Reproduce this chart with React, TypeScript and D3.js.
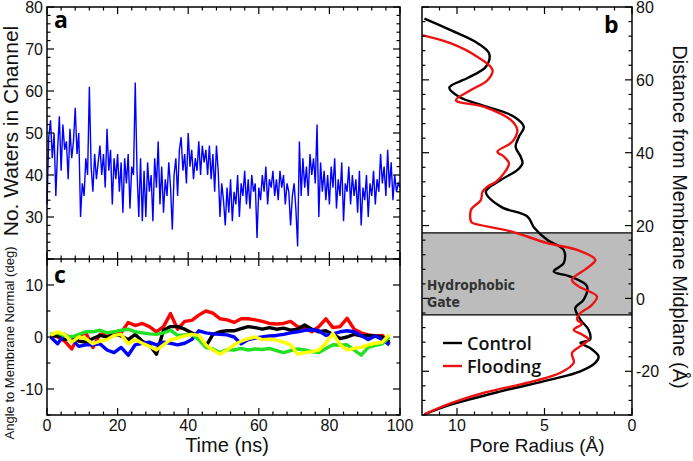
import React from "react";
import * as d3 from "d3";

// ---- Panel a: number of waters in channel, every 0.5 ns from 0 to 100 ns
const waters = [
  33, 49, 53, 44, 50, 35, 46, 54, 41, 52,
  46, 48, 39, 51, 44, 48, 56, 45, 50, 30,
  38, 35, 44, 40, 61, 42, 36, 45, 39, 43,
  47, 40, 45, 37, 51, 41, 46, 33, 44, 39,
  45, 36, 43, 31, 44, 38, 45, 32, 42, 40,
  62, 41, 30, 44, 29, 41, 30, 43, 36, 40,
  29, 44, 37, 48, 33, 42, 31, 39, 35, 43,
  37, 27, 40, 44, 35, 46, 49, 41, 45, 38,
  50, 42, 46, 39, 44, 41, 48, 40, 47, 43,
  46, 40, 47, 39, 45, 36, 47, 41, 30, 38,
  34, 28, 37, 31, 39, 29, 36, 33, 40, 30,
  38, 35, 41, 33, 39, 32, 40, 36, 38, 25,
  37, 34, 40, 36, 42, 33, 39, 37, 41, 35,
  39, 34, 41, 37, 40, 33, 38, 36, 28, 35,
  38, 32, 23, 48, 35, 44, 37, 42, 35, 45,
  40, 44, 38, 52, 30, 43, 36, 41, 34, 40,
  33, 42, 37, 44, 32, 39, 35, 43, 29, 38,
  36, 42, 33, 40, 35, 39, 31, 41, 28, 37,
  34, 40, 30, 38, 35, 41, 33, 39, 36, 45,
  38, 42, 35, 46, 37, 43, 34, 40, 36, 38,
  37,
];
const waterStep = 0.5;

// ---- Panel c: helix angles to membrane normal
const angleTimes = [
  1, 3, 5, 7, 9, 11, 13, 15, 17, 19, 21, 23, 25, 27, 29, 31, 33, 35, 37, 39,
  41, 43, 45, 47, 49, 51, 53, 55, 57, 59, 61, 63, 65, 67, 69, 71, 73, 75, 77, 79,
  81, 83, 85, 87, 89, 91, 93, 95, 97,
];
const angleRed = [
  0.5, 0, -0.8, -2.3, 0.3, 0.8, -2.0, 0.5, 0.8, 0.5, 0.8, 2.8, 2.2, 2.6, 2.0, 1.0, 2.0, 4.5, 1.5, 3.0,
  3.2, 4.2, 5.0, 4.6, 3.5, 3.3, 2.8, 3.5, 3.5, 3.3, 3.0, 2.6, 2.5, 2.6, 3.0, 2.0, 1.8, 1.0, 2.0, 3.5,
  1.8, 2.0, 3.6, 1.5, 0.8, 0.4, 0.2, 0.3, -1.3,
];
const angleBlack = [
  0.3, 0.2, -0.5, 0, -0.8, -1.0, -0.3, 0.3, 0, 0.5, 0.2, -0.5, 0.5, -0.8, -1.5, -3.3, 1.3, 2.0, 2.0, 1.5,
  0.8, 0.2, -1.8, 0.5, 1.0, 1.2, 1.2, 1.6, 2.0, 1.8, 1.5, 1.8, 1.5, 1.7, 1.3, 1.5, 2.3, 1.5, 1.0, 1.2,
  0.5, -0.3, 0, 0.5, 0.2, 0.3, 0.2, 0, -1.0,
];
const angleBlue = [
  0, -1.3, 0.5, -0.5, -1.8, -1.5, -1.5, -1.3, -2.5, -3.0, -2.0, -3.5, -1.5, -1.2, -1.0, -1.5, -1.0, -1.2, -1.5, -1.2,
  -0.5, 1.2, 0.8, 0.6, 0.5, 0.4, 0, -1.3, -0.5, -0.2, 0, 0.2, 0.3, 0.5, 0.8, 1.0, 1.3, 1.4, 1.2, 0.3,
  0.6, 1.0, 1.2, 1.0, 0.3, -0.5, 0.2, -0.5, -1.5,
];
const angleGreen = [
  0.5, 0.8, 0.2, 0, 0.5, 1.0, 1.0, 1.3, 0.8, 1.0, 1.3, 1.5, 1.0, 0.8, 0.6, 0.5, 0.8, 1.3, 0.3, 0.4,
  0.5, -0.5, -2.0, -2.3, -3.0, -2.4, -2.5, -2.2, -2.5, -2.3, -2.4, -2.2, -2.6, -3.0, -2.6, -2.3, -2.5, -2.8, -3.0, -2.2,
  -1.5, -1.6, -1.5, -2.5, -3.5, -2.0, -1.6, -1.3, 0,
];
const angleYellow = [
  0.3, 1.0, 0.5, -1.0, 0, -0.3, -1.3, -0.8, -0.5, 0.3, 0.5, -1.3, -0.5, -1.2, -1.8, -2.5, -1.5, -0.5, -0.2, 0.2,
  0.5, 0.3, -1.5, -2.5, -3.3, -2.5, -1.5, -0.8, -0.3, 0, -0.5, -0.4, -0.6, -1.0, -1.5, -3.3, -3.0, -2.8, -2.5, -1.2,
  0.7, -1.5, -2.5, -2.2, -2.0, -1.5, -1.2, -1.0, 0.5,
];
const angleSeries = [
  { color: "#ff0000", values: angleRed },
  { color: "#000000", values: angleBlack },
  { color: "#0000ff", values: angleBlue },
  { color: "#22e022", values: angleGreen },
  { color: "#ffff00", values: angleYellow },
];

// ---- Panel b: pore radius profiles (radius in Å, z in Å)
const controlR = [11.86, 10.3, 8.8, 8.16, 8.35, 9.4, 10.44, 9.87, 8.26, 6.74, 6.18, 6.46, 6.65, 6.36, 6.26, 6.54, 7.5, 8.35, 7.5, 5.98, 5.6, 4.85, 3.9, 3.9, 4.47, 3.52, 2.57, 2.77, 3.24, 2.95, 2.48, 2.4, 2.95, 2.4, 1.91, 2.1, 2.95, 4.66, 7.5, 10.3, 11.86];
const controlZ = [76.8, 73.5, 70, 67.2, 63.6, 60.5, 57.9, 55.3, 52.6, 49.9, 47.1, 44.4, 41.6, 38.9, 37.1, 35.3, 32.5, 29.3, 25.2, 22.5, 19.5, 16.1, 13.3, 9.7, 7.4, 6.0, 3.3, -0.4, -2.6, -5.8, -8.6, -11.3, -12.2, -13.6, -15.9, -17.7, -20, -22.3, -25.5, -29.1, -31.8];
const floodR = [11.95, 10.34, 8.83, 7.97, 8.26, 9.2, 10.06, 8.45, 6.93, 6.55, 6.65, 6.93, 7.69, 7.31, 7.03, 7.31, 7.78, 8.26, 8.54, 8.64, 9.2, 9.2, 9.11, 6.93, 4.85, 3.14, 2.1, 2.57, 3.43, 3.05, 2.0, 2.39, 2.95, 3.14, 2.86, 3.33, 2.86, 2.48, 2.95, 3.43, 3.33, 4.09, 5.6, 8.45, 10.3, 11.86];
const floodZ = [72.2, 70, 66.3, 62.7, 59.9, 57.2, 54.4, 52.6, 49, 46.2, 44.4, 42.6, 40.3, 38.9, 37.1, 34.4, 32, 30.7, 29.3, 27, 24.3, 21.1, 20.7, 18.4, 15.2, 13.3, 10.6, 8.3, 5.1, 3.3, 0.5, -2.2, -4.0, -5.8, -7.0, -8.6, -9.9, -11.3, -13.1, -15, -17.7, -20.4, -22.7, -25.9, -28.7, -31.8];
const gateBand = [-4.5, 18];

const timeTicks = [0, 20, 40, 60, 80, 100];
const waterTicks = [30, 40, 50, 60, 70, 80];
const angleTicks = [-10, 0, 10];
const radiusTicks = [10, 5, 0];
const distTicks = [-20, 0, 20, 40, 60, 80];

const FONT = "'Liberation Sans', Arial, Helvetica, sans-serif";

export default function App() {
  const xA = d3.scaleLinear().domain([0, 100]).range([47, 400]);
  const yA = d3.scaleLinear().domain([20, 80]).range([259, 7]);
  const yC = d3.scaleLinear().domain([-15, 15]).range([415, 259]);
  const xB = d3.scaleLinear().domain([12, 0]).range([422, 632]);
  const yB = d3.scaleLinear().domain([-32, 80]).range([415, 7]);

  const waterLine = d3
    .line<number>()
    .x((_, i) => xA(i * waterStep))
    .y((d) => yA(d));
  const angleLine = d3
    .line<number>()
    .x((_, i) => xA(angleTimes[i]))
    .y((d) => yC(d));
  const poreLine = (rs: number[], zs: number[]) =>
    d3
      .line<number>()
      .x((d) => xB(d))
      .y((_, i) => yB(zs[i]))
      .curve(d3.curveCatmullRom.alpha(0.5))(rs) as string;

  const MAJ = 7;
  const MIN = 3.5;
  const tickEls: React.ReactNode[] = [];
  let k = 0;
  const hTicks = (
    scale: d3.ScaleLinear<number, number>,
    vals: number[],
    y: number,
    dir: number,
    len: number
  ) =>
    vals.forEach((v) =>
      tickEls.push(
        <line key={k++} x1={scale(v)} x2={scale(v)} y1={y} y2={y + dir * len} />
      )
    );
  const vTicks = (
    scale: d3.ScaleLinear<number, number>,
    vals: number[],
    x: number,
    dir: number,
    len: number
  ) =>
    vals.forEach((v) =>
      tickEls.push(
        <line key={k++} y1={scale(v)} y2={scale(v)} x1={x} x2={x + dir * len} />
      )
    );

  // panel a
  const timeMinor = d3.range(0, 101, 4).filter((v) => v % 20 !== 0);
  const timeMajor = d3.range(0, 101, 20);
  vTicks(yA, d3.range(20, 81, 10), 47, 1, MAJ);
  vTicks(yA, d3.range(20, 81, 2).filter((v) => v % 10 !== 0), 47, 1, MIN);
  vTicks(yA, d3.range(20, 81, 10), 400, -1, MAJ);
  vTicks(yA, d3.range(20, 81, 2).filter((v) => v % 10 !== 0), 400, -1, MIN);
  hTicks(xA, timeMajor, 7, 1, MAJ);
  hTicks(xA, timeMinor, 7, 1, MIN);
  hTicks(xA, timeMajor, 259, -1, MAJ);
  hTicks(xA, timeMinor, 259, -1, MIN);
  // panel c
  hTicks(xA, timeMajor, 259, 1, MAJ);
  hTicks(xA, timeMinor, 259, 1, MIN);
  hTicks(xA, timeMajor, 415, -1, MAJ);
  hTicks(xA, timeMinor, 415, -1, MIN);
  vTicks(yC, [-10, 0, 10], 47, 1, MAJ);
  vTicks(yC, [-15, -5, 5, 15], 47, 1, MIN);
  vTicks(yC, [-10, 0, 10], 400, -1, MAJ);
  vTicks(yC, [-15, -5, 5, 15], 400, -1, MIN);
  // panel b
  const rMinor = d3.range(1, 12, 1).filter((v) => v % 5 !== 0);
  hTicks(xB, [0, 5, 10], 415, -1, MAJ);
  hTicks(xB, rMinor, 415, -1, MIN);
  hTicks(xB, [0, 5, 10], 7, 1, MAJ);
  hTicks(xB, rMinor, 7, 1, MIN);
  const zMajor = d3.range(-20, 81, 20);
  const zMinor = d3.range(-32, 81, 4).filter((v) => v % 20 !== 0);
  vTicks(yB, zMajor, 632, -1, MAJ);
  vTicks(yB, zMinor, 632, -1, MIN);
  vTicks(yB, zMajor, 422, 1, MAJ);
  vTicks(yB, zMinor, 422, 1, MIN);

  return (
    <svg width={693} height={461} style={{ position: "absolute", left: 0, top: 0, background: "#fff" }}>
      <rect x={0} y={0} width={693} height={461} fill="#fff" />
      {/* panel b gate band */}
      <rect
        x={422}
        y={yB(gateBand[1])}
        width={210}
        height={yB(gateBand[0]) - yB(gateBand[1])}
        fill="#bcbcbc"
      />
      <line x1={422} x2={632} y1={yB(gateBand[1])} y2={yB(gateBand[1])} stroke="#000" strokeWidth={1.3} />
      <line x1={422} x2={632} y1={yB(gateBand[0])} y2={yB(gateBand[0])} stroke="#000" strokeWidth={1.3} />

      {/* data */}
      <path d={waterLine(waters) as string} fill="none" stroke="#0000ff" strokeWidth={1.4} />
      {angleSeries.map((s, i) => (
        <path key={i} d={angleLine(s.values) as string} fill="none" stroke={s.color} strokeWidth={3.4} strokeLinejoin="round" />
      ))}
      <path d={poreLine(controlR, controlZ)} fill="none" stroke="#000" strokeWidth={2.4} />
      <path d={poreLine(floodR, floodZ)} fill="none" stroke="#ee1111" strokeWidth={2.4} />

      {/* frames and ticks */}
      <g stroke="#000" strokeWidth={1.2}>{tickEls}</g>
      <rect x={47} y={7} width={353} height={408} fill="none" stroke="#000" strokeWidth={1.5} />
      <line x1={47} x2={400} y1={259} y2={259} stroke="#000" strokeWidth={1.5} />
      <rect x={422} y={7} width={210} height={408} fill="none" stroke="#000" strokeWidth={1.5} />

      {/* tick labels */}
      <g fontFamily={FONT} fontSize={16} fill="#111">
        {waterTicks.map((v) => (
          <text key={"w" + v} x={43} y={yA(v)} dy="0.38em" textAnchor="end">{v}</text>
        ))}
        {angleTicks.map((v) => (
          <text key={"a" + v} x={43} y={yC(v)} dy="0.36em" textAnchor="end">{v}</text>
        ))}
        {timeTicks.map((v) => (
          <text key={"t" + v} x={xA(v)} y={431} textAnchor="middle">{v}</text>
        ))}
        {radiusTicks.map((v) => (
          <text key={"r" + v} x={xB(v)} y={431} textAnchor="middle">{v}</text>
        ))}
        {distTicks.map((v) => (
          <text key={"d" + v} x={636} y={yB(v)} dy="0.38em" textAnchor="start">{v}</text>
        ))}
      </g>

      {/* axis titles */}
      <g fontFamily={FONT} fill="#111">
        <text x={227} y={452} fontSize={20} textAnchor="middle">Time (ns)</text>
        <text x={537} y={452} fontSize={19} textAnchor="middle">Pore Radius (Å)</text>
        <text transform="translate(18,131) rotate(-90)" fontSize={21} textAnchor="middle">No. Waters in Channel</text>
        <text transform="translate(14,343) rotate(-90)" fontSize={13} textAnchor="middle">Angle to Membrane Normal (deg)</text>
        <text transform="translate(673,217) rotate(90)" fontSize={20} textAnchor="middle">Distance from Membrane Midplane (Å)</text>
      </g>

      {/* panel letters */}
      <g fontFamily="'Open Sans', sans-serif" fontWeight={700} fontSize={23} fill="#000">
        <text x={54} y={28}>a</text>
        <text x={604} y={33}>b</text>
        <text x={54} y={283}>c</text>
      </g>

      {/* gate label */}
      <g fontFamily="'DejaVu Sans Condensed', 'Liberation Sans Narrow', sans-serif" fontWeight={700} fontSize={14} fill="#333">
        <text x={427} y={290} textLength={88} lengthAdjust="spacingAndGlyphs">Hydrophobic</text>
        <text x={427} y={307} textLength={33} lengthAdjust="spacingAndGlyphs">Gate</text>
      </g>

      {/* legend */}
      <line x1={443} x2={462} y1={343} y2={343} stroke="#000" strokeWidth={2.4} />
      <line x1={443} x2={462} y1={366} y2={366} stroke="#ee1111" strokeWidth={2.4} />
      <g fontFamily="'Open Sans', sans-serif" fontWeight={600} fontSize={18} fill="#111">
        <text x={467} y={350}>Control</text>
        <text x={467} y={373}>Flooding</text>
      </g>
    </svg>
  );
}
